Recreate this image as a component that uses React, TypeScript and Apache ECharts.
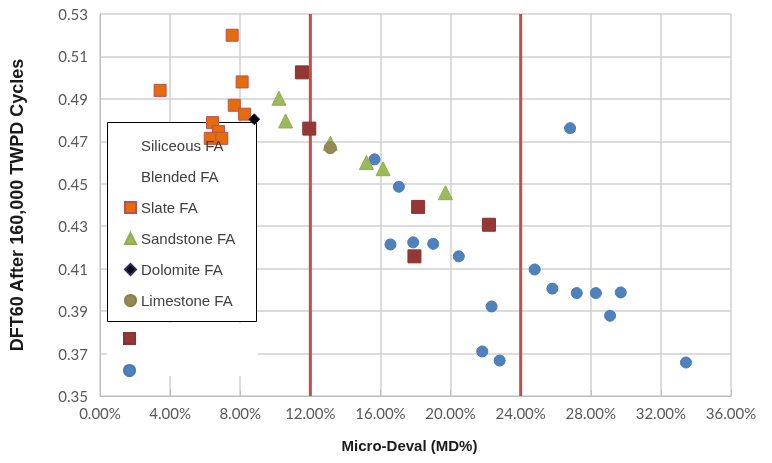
import React, { useEffect, useRef } from 'react';
import * as echarts from 'echarts';

// Micro-Deval (%) and DFT60 values per aggregate type
const siliceousMD = [15.66, 17.05, 16.57, 17.87, 19.01, 20.47, 26.82, 24.8, 25.81, 27.2, 28.29, 29.71, 29.1, 22.34, 21.81, 22.8, 33.43];
const siliceousDFT = [0.4615, 0.4486, 0.4214, 0.4224, 0.4217, 0.4158, 0.4762, 0.4096, 0.4006, 0.3985, 0.3985, 0.3988, 0.3878, 0.3922, 0.371, 0.3667, 0.3658];
const blendedMD = [11.52, 11.94, 18.15, 22.19, 17.94];
const blendedDFT = [0.5025, 0.476, 0.4391, 0.4307, 0.4158];
const slateMD = [7.54, 3.43, 8.11, 7.66, 8.25, 6.42, 6.76, 6.29, 6.95];
const slateDFT = [0.52, 0.494, 0.498, 0.487, 0.4828, 0.4788, 0.4746, 0.4714, 0.4714];
const sandstoneMD = [10.21, 10.59, 13.14, 15.2, 16.15, 19.71];
const sandstoneDFT = [0.4903, 0.4796, 0.4691, 0.46, 0.4571, 0.4458];
const dolomiteMD = [8.8];
const dolomiteDFT = [0.4804];
const limestoneMD = [13.14];
const limestoneDFT = [0.467];

const limitLines = [12, 24];
const yRange = [0.35, 0.53];
const xTicks = { min: 0, max: 36, interval: 4 };
const yTicks = { min: 0.35, max: 0.53, interval: 0.02 };

const zip = (xs: number[], ys: number[]) => xs.map((x, i) => [x, ys[i]]);

export default function App() {
  const ref = useRef<HTMLDivElement>(null);
  useEffect(() => {
    if (!ref.current) return;
    const chart = echarts.init(ref.current, undefined, { renderer: 'svg' });
    const grid = '#d0d0d0';
    const scatter = (name: string, xs: number[], ys: number[], symbol: string, size: number, color: string, border: string) => ({
      name,
      type: 'scatter',
      data: zip(xs, ys),
      symbol,
      symbolSize: size,
      z: 3,
      itemStyle: { color, borderColor: border, borderWidth: 1, opacity: 1 },
    });
    const series: any[] = [
      ...limitLines.map((x) => ({
        name: 'limit' + x,
        type: 'line',
        data: [[x, yRange[0]], [x, yRange[1]]],
        symbol: 'none',
        z: 2,
        lineStyle: { color: '#c0504d', width: 3 },
      })),
      scatter('Siliceous FA', siliceousMD, siliceousDFT, 'circle', 11, '#4f81bd', '#4a7ab5'),
      scatter('Blended FA', blendedMD, blendedDFT, 'rect', 13, '#953735', '#8a3432'),
      scatter('Slate FA', slateMD, slateDFT, 'rect', 12, '#e46c0a', '#c0504d'),
      scatter('Sandstone FA', sandstoneMD, sandstoneDFT, 'triangle', 14, '#9bbb59', '#8fae50'),
      scatter('Dolomite FA', dolomiteMD, dolomiteDFT, 'diamond', 11, '#000000', '#2a2a6a'),
      scatter('Limestone FA', limestoneMD, limestoneDFT, 'circle', 12, '#948a54', '#8a804e'),
    ];
    chart.setOption({
      animation: false,
      grid: { left: 100, right: 41, top: 14, bottom: 67 },
      xAxis: {
        type: 'value',
        min: xTicks.min,
        max: xTicks.max,
        interval: xTicks.interval,
        name: 'Micro-Deval (MD%)',
        nameLocation: 'middle',
        nameGap: 42,
        nameTextStyle: { fontFamily: 'Liberation Sans', fontWeight: 'bold', fontSize: 15, color: '#1a1a1a', padding: [0, 12, 0, 0] },
        axisLine: { show: true, lineStyle: { color: '#bfbfbf', width: 1 } },
        axisTick: { show: true, inside: true, length: 6, lineStyle: { color: '#bfbfbf' } },
        splitLine: { show: true, lineStyle: { color: grid, width: 1.5 } },
        axisLabel: {
          formatter: (v: number) => v.toFixed(2) + '%',
          fontFamily: 'Lato',
          fontSize: 15,
          color: '#595959',
          margin: 9,
        },
      },
      yAxis: {
        type: 'value',
        min: yTicks.min,
        max: yTicks.max,
        interval: yTicks.interval,
        name: 'DFT60 After 160,000 TWPD Cycles',
        nameLocation: 'middle',
        nameGap: 74,
        nameTextStyle: { fontFamily: 'Liberation Sans', fontWeight: 'bold', fontSize: 18, color: '#1a1a1a' },
        axisLine: { show: true, lineStyle: { color: '#bfbfbf', width: 1 } },
        axisTick: { show: false },
        splitLine: { show: true, lineStyle: { color: grid, width: 1.5 } },
        axisLabel: {
          formatter: (v: number) => v.toFixed(2),
          fontFamily: 'Lato',
          fontSize: 15,
          color: '#595959',
          margin: 12,
        },
      },
      legend: [
        {
          orient: 'vertical',
          left: 124,
          top: 138,
          padding: 0,
          itemWidth: 11,
          itemHeight: 11,
          itemGap: 16,
          selectedMode: false,
          z: 4,
          textStyle: { fontFamily: 'Liberation Sans', fontSize: 15, color: '#404040' },
          data: [
            { name: 'Siliceous FA', itemStyle: { opacity: 0 } },
            { name: 'Blended FA', itemStyle: { opacity: 0 } },
            'Slate FA',
            'Sandstone FA',
            'Dolomite FA',
            'Limestone FA',
          ],
        },
        {
          orient: 'vertical',
          left: 123,
          top: 332,
          padding: 0,
          itemWidth: 11,
          itemHeight: 11,
          itemGap: 19,
          selectedMode: false,
          z: 4,
          formatter: () => '',
          textStyle: { fontSize: 11 },
          data: ['Blended FA', 'Siliceous FA'],
        },
      ],
      graphic: [
        {
          type: 'rect',
          z: 1,
          shape: { x: 107.5, y: 122.5, width: 149, height: 199 },
          style: { fill: '#ffffff', stroke: '#000000', lineWidth: 1 },
        },
        {
          type: 'rect',
          z: 1,
          shape: { x: 107, y: 323, width: 151, height: 53 },
          style: { fill: '#ffffff' },
        },
      ],
      series,
    });
    return () => chart.dispose();
  }, []);
  return <div ref={ref} style={{ position: 'fixed', left: 0, top: 0, width: 772, height: 463 }} />;
}
